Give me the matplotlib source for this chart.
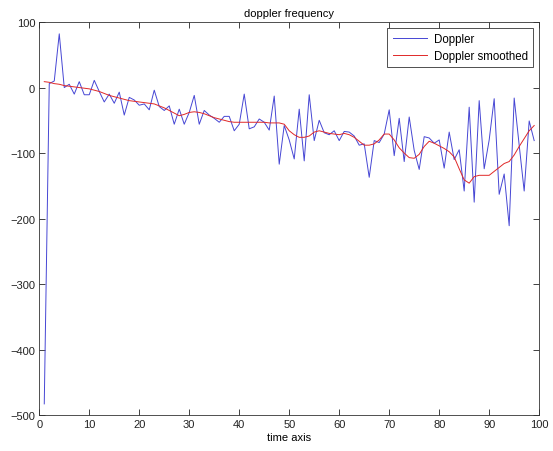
import numpy as np
import matplotlib
matplotlib.use("Agg")
import matplotlib.pyplot as plt

# values
time_axis = np.arange(1, 100)
doppler = [
    -483, 6, 10, 82, 0, 5, -10, 9, -11, -11,
    11, -6, -22, -10, -24, -7, -42, -15, -19, -27,
    -25, -34, -4, -29, -35, -28, -56, -33, -56, -38,
    -12, -56, -35, -42, -47, -53, -44, -44, -66, -56,
    -10, -63, -60, -48, -53, -65, -13, -117, -58, -80,
    -109, -33, -112, -11, -81, -50, -69, -72, -66, -81,
    -67, -68, -74, -88, -86, -137, -81, -84, -71, -34,
    -104, -47, -113, -45, -96, -125, -75, -77, -85, -80,
    -123, -68, -110, -95, -158, -30, -175, -20, -124, -80,
    -17, -163, -132, -211, -16, -88, -158, -51, -81,
]
doppler_smoothed = [
    9, 8, 6, 5, 3, 2, 1, 0, -1, -2,
    -4, -6, -9, -12, -14, -16, -18, -20, -21, -22,
    -23, -24, -25, -28, -31, -35, -39, -43, -41, -38,
    -37, -38, -40, -43, -46, -48, -50, -52, -53, -53,
    -53, -53, -53, -53, -53, -54, -54, -54, -56, -66,
    -72, -76, -76, -74, -68, -66, -68, -70, -71, -72,
    -70, -72, -76, -82, -88, -88, -86, -80, -71, -71,
    -80, -92, -100, -107, -108, -102, -90, -82, -85, -89,
    -93, -98, -106, -124, -141, -146, -136, -134, -134, -134,
    -128, -122, -116, -113, -103, -90, -78, -66, -58,
]
x_ticks = list(range(0, 101, 10))
y_ticks = list(range(-500, 101, 100))

plt.rcParams["font.family"] = ["Liberation Sans", "DejaVu Sans"]
plt.rcParams["font.size"] = 8

fig = plt.figure(figsize=(5.53, 4.52), dpi=100)
ax = fig.add_axes([0.071, 0.0796, 0.904, 0.8694])

ax.plot(time_axis, doppler, color="#4646d4", linewidth=0.7, label="Doppler")
ax.plot(time_axis, doppler_smoothed, color="#e02828", linewidth=0.7, label="Doppler smoothed")

ax.set_xlim(0, 100)
ax.set_ylim(-500, 100)
ax.set_xticks(x_ticks)
ax.set_yticks(y_ticks)
ax.tick_params(direction="in", length=4, width=0.6, top=True, right=True, pad=3, colors="#222222")
for spine in ax.spines.values():
    spine.set_linewidth(0.6)
    spine.set_color("#333333")

ax.set_title("doppler frequency", fontsize=8, pad=4)
ax.set_xlabel("time axis", labelpad=2)

leg = ax.legend(loc="upper right", fancybox=False, framealpha=1, edgecolor="#333333",
                borderaxespad=0.5, handlelength=3.0, handletextpad=0.6, borderpad=0.45,
                labelspacing=0.4, fontsize=8.3)
leg.get_frame().set_linewidth(0.6)

fig.savefig("out.png", dpi=100)
